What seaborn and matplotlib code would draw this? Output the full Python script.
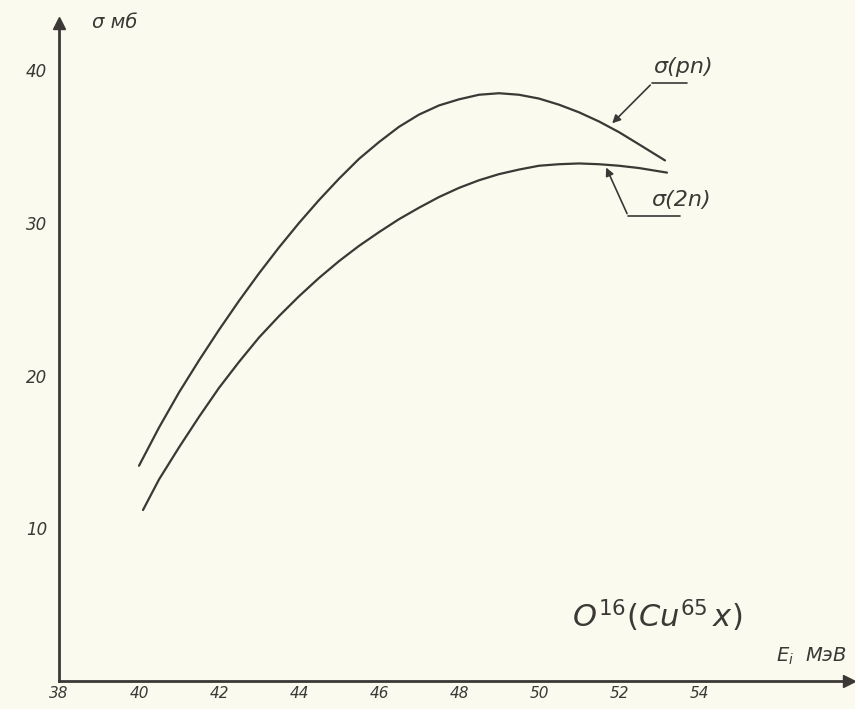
import pandas as pd
import matplotlib.pyplot as plt
import seaborn as sns

# values (E in MeV, sigma in mb)
e_pn = [40.0, 40.5, 41.0, 41.5, 42.0, 42.5, 43.0, 43.5, 44.0, 44.5, 45.0, 45.5, 46.0, 46.5,
        47.0, 47.5, 48.0, 48.5, 49.0, 49.5, 50.0, 50.5, 51.0, 51.5, 52.0, 52.5, 53.15]
sigma_pn = [14.1, 16.6, 18.9, 21.0, 23.0, 24.9, 26.7, 28.4, 30.0, 31.5, 32.9, 34.2, 35.3, 36.3,
            37.1, 37.7, 38.1, 38.4, 38.5, 38.4, 38.15, 37.75, 37.25, 36.65, 35.95, 35.15, 34.1]

e_2n = [40.1, 40.5, 41.0, 41.5, 42.0, 42.5, 43.0, 43.5, 44.0, 44.5, 45.0, 45.5, 46.0, 46.5,
        47.0, 47.5, 48.0, 48.5, 49.0, 49.5, 50.0, 50.5, 51.0, 51.5, 52.0, 52.5, 53.2]
sigma_2n = [11.2, 13.2, 15.3, 17.3, 19.2, 20.9, 22.5, 23.9, 25.2, 26.4, 27.5, 28.5, 29.4, 30.25,
            31.0, 31.7, 32.3, 32.8, 33.2, 33.5, 33.75, 33.85, 33.9, 33.85, 33.75, 33.6, 33.3]

x_ticks = [38, 40, 42, 44, 46, 48, 50, 52, 54]
y_ticks = [10, 20, 30, 40]
y_minor = [5, 15, 25, 35]

df = pd.concat([
    pd.DataFrame({'E': e_pn, 'sigma': sigma_pn, 'reaction': 'pn'}),
    pd.DataFrame({'E': e_2n, 'sigma': sigma_2n, 'reaction': '2n'}),
])

sns.set_style('white')
plt.rcParams['font.family'] = ['DejaVu Sans']
paper = '#fafaef'
ink = '#3b3835'

fig = plt.figure(figsize=(8.55, 7.09), dpi=100, facecolor=paper)
ax = fig.add_axes([59 / 855, 28 / 709, 790 / 855, 658 / 709], facecolor=paper)

sns.lineplot(data=df, x='E', y='sigma', units='reaction', estimator=None,
             color=ink, linewidth=1.6, sort=False, ax=ax)

ax.set_xlim(38, 57.75)
ax.set_ylim(0, 43.1)
for s in ['top', 'right']:
    ax.spines[s].set_visible(False)
for s in ['left', 'bottom']:
    ax.spines[s].set_color(ink)
    ax.spines[s].set_linewidth(2)

ax.set_xticks(x_ticks)
ax.set_yticks(y_ticks)
ax.set_yticks(y_minor, minor=True)
ax.set_xticklabels([str(v) for v in x_ticks], fontstyle='italic', fontsize=11, color=ink)
ax.set_yticklabels([str(v) for v in y_ticks], fontstyle='italic', fontsize=12, color=ink)
ax.tick_params(axis='both', which='both', direction='inout', length=5, width=1.2, color=ink)
ax.tick_params(axis='x', pad=1)
ax.tick_params(axis='y', pad=6)
ax.set_xlabel('')
ax.set_ylabel('')

# axis arrows
ax.plot(1, 0, '>', color=ink, markersize=9, transform=ax.transAxes, clip_on=False)
ax.plot(0, 1, '^', color=ink, markersize=9, transform=ax.transAxes, clip_on=False)

# axis titles
ax.text(39.4, 43.1, 'σ мб', fontsize=14, fontstyle='italic', color=ink,
        ha='center', va='center', clip_on=False)
ax.text(56.8, 1.6, '$E_i$  МэВ', fontsize=14, fontstyle='italic', color=ink,
        ha='center', va='center', clip_on=False)

# curve labels with leader lines
ax.text(53.6, 40.2, 'σ(pn)', fontsize=16, fontstyle='italic', color=ink, ha='center', va='center')
ax.plot([52.83, 53.7], [39.16, 39.16], color=ink, lw=1.2)
ax.annotate('', xy=(51.78, 36.4), xytext=(52.83, 39.16),
            arrowprops=dict(arrowstyle='-|>', color=ink, lw=1.2, mutation_scale=12))

ax.text(53.55, 31.5, 'σ(2n)', fontsize=16, fontstyle='italic', color=ink, ha='center', va='center')
ax.plot([52.23, 53.53], [30.45, 30.45], color=ink, lw=1.2)
ax.annotate('', xy=(51.65, 33.8), xytext=(52.23, 30.45),
            arrowprops=dict(arrowstyle='-|>', color=ink, lw=1.2, mutation_scale=12))

# reaction label
ax.text(52.95, 4.3, '$O^{16}(Cu^{65}\\,x)$', fontsize=22, color=ink, ha='center', va='center')

fig.savefig('out.png', dpi=100, facecolor=paper)
